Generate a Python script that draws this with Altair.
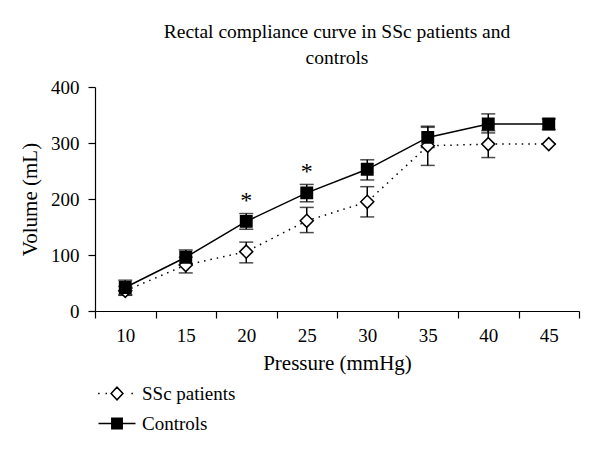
import altair as alt
import pandas as pd

pressure = [10, 15, 20, 25, 30, 35, 40, 45]
ssc_mean = [36, 82, 106, 161, 195, 295, 298, 298]
ssc_lo = [28, 68, 86, 140, 168, 260, 274, 298]
ssc_hi = [44, 96, 123, 185, 222, 330, 322, 298]
ctl_mean = [42, 96, 160, 211, 253, 310, 334, 334]
ctl_lo = [29, 83, 146, 195, 234, 292, 318, 324]
ctl_hi = [55, 109, 174, 226, 270, 328, 352, 343]
star_x = [20, 25]
star_y = [196, 248]
series_names = ["SSc patients", "Controls"]

rows = []
for i, p in enumerate(pressure):
    rows.append({"p": p, "series": series_names[0], "v": ssc_mean[i], "lo": ssc_lo[i], "hi": ssc_hi[i]})
for i, p in enumerate(pressure):
    rows.append({"p": p, "series": series_names[1], "v": ctl_mean[i], "lo": ctl_lo[i], "hi": ctl_hi[i]})
df = pd.DataFrame(rows)
df["lg"] = df["series"]
stars = pd.DataFrame({"p": star_x, "v": star_y, "t": ["*", "*"]})

FONT = "Liberation Serif"
LAB = 19
TIT = 21

x_scale = alt.Scale(domain=pressure, paddingInner=0, paddingOuter=0)
x = alt.X("p:O", title="Pressure (mmHg)", sort=pressure, scale=x_scale,
          axis=alt.Axis(labelAngle=0, tickBand="extent", tickSize=7, labelPadding=8,
                        titlePadding=7, domainColor="black", tickColor="black",
                        labelColor="black", titleColor="black", domainWidth=1.2, tickWidth=1.2))
y_scale = alt.Scale(domain=[0, 400], nice=False)
y = alt.Y("v:Q", title="Volume (mL)", scale=y_scale,
          axis=alt.Axis(values=[0, 100, 200, 300, 400], tickSize=7, labelPadding=9, grid=False,
                        titlePadding=10, domainColor="black", tickColor="black",
                        labelColor="black", titleColor="black", domainWidth=1.2, tickWidth=1.2))

base = alt.Chart(df)
ssc = base.transform_filter(alt.datum.series == series_names[0])
ctl = base.transform_filter(alt.datum.series == series_names[1])

ssc_line = ssc.mark_line(color="black", strokeWidth=1.5, strokeDash=[1.5, 5]).encode(x=x, y=y)
ctl_line = ctl.mark_line(color="black", strokeWidth=1.5).encode(x=x, y=y)

rules = base.mark_rule(color="black", strokeWidth=1.5).encode(
    x=x, y=alt.Y("lo:Q", scale=y_scale), y2="hi:Q")
cap_lo = base.mark_tick(color="black", size=14, thickness=1.5).encode(
    x=x, y=alt.Y("lo:Q", scale=y_scale))
cap_hi = base.mark_tick(color="black", size=14, thickness=1.5).encode(
    x=x, y=alt.Y("hi:Q", scale=y_scale))

ssc_pts = ssc.mark_point(
    shape="diamond", filled=True, fill="white", stroke="black", strokeWidth=1.5, size=170, opacity=1
).encode(x=x, y=y)
ctl_pts = ctl.mark_point(
    shape="square", filled=True, fill="black", stroke="black", strokeWidth=1.5, size=130, opacity=1
).encode(x=x, y=y)

# legend symbols: line + marker drawn as one custom path (unit box -1..1)
ssc_sym = "M-1.02,0L-0.94,0M-0.62,0L-0.54,0M0.78,0L0.86,0M-0.32,0L0,-0.34L0.32,0L0,0.34Z"
ctl_sym = "M-1,0L1,0M-0.28,-0.28L0.28,-0.28L0.28,0.28L-0.28,0.28Z"

leg = alt.Legend(title=None, orient="none", legendX=2.5, legendY=287,
                 symbolStrokeColor="black", symbolStrokeWidth=1.5,
                 symbolSize=1369, symbolOpacity=1,
                 labelFont=FONT, labelFontSize=LAB, labelColor="black",
                 labelOffset=5.5, rowPadding=0, padding=0)

legend_layer = base.mark_point(
    filled=True, strokeWidth=1.5, size=0
).encode(
    x=x, y=y,
    shape=alt.Shape("lg:N", scale=alt.Scale(domain=series_names, range=[ssc_sym, ctl_sym]), legend=leg),
    fill=alt.Fill("lg:N", scale=alt.Scale(domain=series_names, range=["white", "black"]), legend=leg),
    stroke=alt.Stroke("lg:N", scale=alt.Scale(domain=series_names, range=["black", "black"]), legend=leg),
)

star = alt.Chart(stars).mark_text(font=FONT, fontSize=24, color="black", fill="black",
                                  baseline="middle").encode(
    x=alt.X("p:O", sort=pressure, scale=x_scale),
    y=alt.Y("v:Q", scale=y_scale), text="t:N")

chart = alt.layer(ssc_line, ctl_line, rules, cap_lo, cap_hi, ssc_pts, ctl_pts, star, legend_layer).properties(
    width=484, height=224,
    title=alt.TitleParams(["Rectal compliance curve in SSc patients and", "controls"],
                          font=FONT, fontSize=19.5, fontWeight="normal", color="black",
                          anchor="middle", lineHeight=26, offset=10),
    autosize=alt.AutoSizeParams(type="none"),
    padding={"left": 87, "top": 79, "right": 13, "bottom": 130},
).configure_axis(
    labelFont=FONT, titleFont=FONT, labelFontSize=LAB, titleFontSize=TIT, titleFontWeight="normal",
).configure_view(stroke=None)

chart.save("out.html", embed_options={"renderer": "svg", "actions": False})
